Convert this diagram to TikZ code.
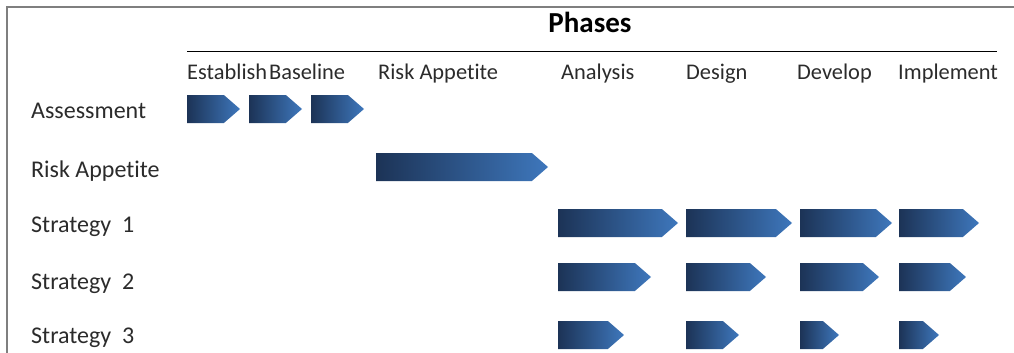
\documentclass[tikz,border=0pt]{standalone}
\usepackage{fontspec}
\setmainfont{Carlito}[Ligatures=NoCommon]
\usetikzlibrary{positioning,shapes.symbols}
\definecolor{Ink}{HTML}{2B2B2B}
\definecolor{FrameGray}{HTML}{7F7F7F}
\definecolor{ArrDark}{HTML}{1C3356}
\definecolor{ArrMid}{HTML}{3366A6}
\definecolor{ArrLight}{HTML}{3E77BC}
\tikzset{
  phasearr/.style={signal, signal to=east, signal from=nowhere,
    signal pointer angle=82, inner sep=0pt, outer sep=0pt,
    minimum height=28pt, minimum width=#1, anchor=west,
    left color=ArrDark, middle color=ArrMid, right color=ArrLight},
  phasearr/.default={53pt},
  rowlabel/.style={anchor=base west, inner sep=0pt, text=Ink,
    font=\fontsize{24}{28}\selectfont},
  colhead/.style={anchor=base west, inner sep=0pt, text=Ink,
    font=\fontsize{22.4}{26}\selectfont},
  frameline/.style={draw=FrameGray, line width=1.6pt},
}

\begin{document}
\begin{tikzpicture}[x=1pt,y=-1pt]
  \useasboundingbox (0,0) rectangle (1014,353);
  \draw[frameline] (1014,7) -- (7,7) -- (7,353);

  % title and rule
  \node[anchor=base, inner sep=0pt, text=black, font=\fontsize{29}{33}\selectfont\bfseries]
    (phases) at (590,33) {Phases};
  \coordinate (ruleL) at (187,51);
  \coordinate (ruleR) at (997,51);
  \draw[line width=0.9pt] (ruleL) -- (ruleR);

  % column heads
  \node[colhead] (hbase) at (187,79) {Establish\hspace{2pt}Baseline};
  \node[colhead] (hrisk) at (378,79) {Risk Appetite};
  \node[colhead] (hana) at (561,79) {Analysis};
  \node[colhead] (hdes) at (686,79) {Design};
  \node[colhead] (hdev) at (797,79) {Develop};
  \node[colhead] (himp) at (898,79) {Implement};

  % row labels
  \node[rowlabel] (rassess) at (31,118) {Assessment};
  \node[rowlabel] (rrisk) at (31,177) {Risk Appetite};
  \node[rowlabel] (rs1) at (31,232) {Strategy\ \ 1};
  \node[rowlabel] (rs2) at (31,289) {Strategy\ \ 2};
  \node[rowlabel] (rs3) at (31,343) {Strategy\ \ 3};

  % assessment
  \node[phasearr] (a1) at (187,109) {};
  \node[phasearr, right=9pt of a1] (a2) {};
  \node[phasearr, right=9pt of a2] (a3) {};

  % risk appetite
  \node[phasearr=172pt] (ra) at (376,167) {};

  % strategies
  \foreach \row/\ypos/\wan/\wde/\wdv/\wim in {1/223/120/106/92/80, 2/277/93/80/79/67, 3/335/66/53/39/40}{
    \node[phasearr=\wan pt] (str\row ana) at (558,\ypos) {};
    \node[phasearr=\wde pt] (str\row des) at (686,\ypos) {};
    \node[phasearr=\wdv pt] (str\row dev) at (800,\ypos) {};
    \node[phasearr=\wim pt] (str\row imp) at (899,\ypos) {};
  }
\end{tikzpicture}
\end{document}
